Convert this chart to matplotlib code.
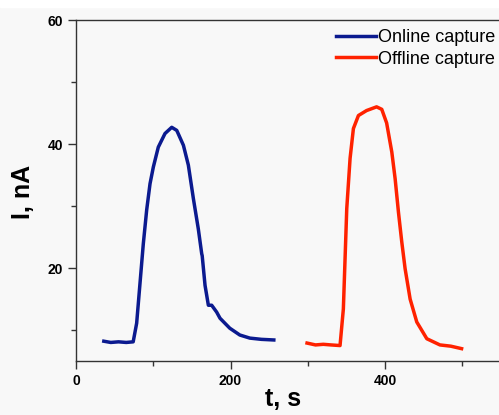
import matplotlib.pyplot as plt
import numpy as np
from matplotlib.ticker import MultipleLocator

plt.rcParams['font.family'] = ['Liberation Sans', 'DejaVu Sans']

# Online capture
t_online = [36, 45, 55, 65, 74, 78.5, 82.8, 87.1, 91.5, 95.8, 100.1, 106.5, 115.2,
            123.9, 130.4, 139, 145.4, 151.9, 158.3, 162.7, 163.3, 167, 171.3,
            175.6, 182, 186.4, 199, 212, 225, 240, 256]
i_online = [8.2, 8.0, 8.1, 8.0, 8.1, 11.1, 17.5, 23.9, 29.4, 33.6, 36.3, 39.5, 41.7,
            42.7, 42.2, 39.8, 36.6, 31.2, 26.3, 22.3, 22.0, 17.2, 14.0,
            14.0, 12.9, 11.9, 10.3, 9.2, 8.7, 8.5, 8.4]

# Offline capture
t_offline = [299, 310, 320, 330, 341.7, 346, 348.2, 350.4, 354.7, 359, 365.5, 376,
             389, 395.7, 402, 408.7, 413, 417.3, 421.6, 425.9, 432.4, 441, 454,
             471, 485, 499]
i_offline = [7.9, 7.6, 7.7, 7.6, 7.5, 13.4, 21.5, 29.6, 37.7, 42.5, 44.6, 45.4,
             46.0, 45.6, 43.4, 38.7, 34.4, 29.0, 24.2, 19.9, 15.0, 11.3, 8.6,
             7.6, 7.4, 7.0]

fig = plt.figure(figsize=(4.99, 4.15), dpi=100, facecolor='#f8f8f8')
ax = fig.add_axes([0.1523, 0.130, 0.8517, 0.8217])
ax.set_facecolor('#f8f8f8')

ax.plot(t_online, i_online, color='#0b1a8f', lw=2.5, label='Online capture')
ax.plot(t_offline, i_offline, color='#ff2200', lw=2.5, label='Offline capture')

ax.set_xlim(0, 550)
ax.set_ylim(5, 60)
ax.xaxis.set_major_locator(MultipleLocator(200))
ax.xaxis.set_minor_locator(MultipleLocator(100))
ax.yaxis.set_major_locator(MultipleLocator(20))
ax.yaxis.set_minor_locator(MultipleLocator(10))
ax.tick_params(which='major', direction='out', length=6, width=1, color='#333333',
               labelsize=10)
ax.tick_params(which='minor', direction='out', length=3.5, width=1, color='#333333')
for lab in ax.get_xticklabels() + ax.get_yticklabels():
    lab.set_fontweight('bold')
for s in ax.spines.values():
    s.set_color('#333333')
    s.set_linewidth(1)

ax.set_xlabel('t, s', fontsize=18, fontweight='bold')
ax.set_ylabel('I, nA', fontsize=18, fontweight='bold')
ax.xaxis.set_label_coords(0.488, -0.075)
ax.yaxis.set_label_coords(-0.097, 0.497)

ax.legend(loc='upper right', bbox_to_anchor=(0.993, 0.93), bbox_transform=fig.transFigure,
          frameon=False, fontsize=13, handlelength=2.2, handletextpad=0.15,
          labelspacing=0.25, borderaxespad=0, borderpad=0)

fig.patches.append(plt.Rectangle((0, 0.983), 1, 0.02, transform=fig.transFigure,
                                 color='white', zorder=0))

plt.savefig('out.png', dpi=100, facecolor=fig.get_facecolor())
